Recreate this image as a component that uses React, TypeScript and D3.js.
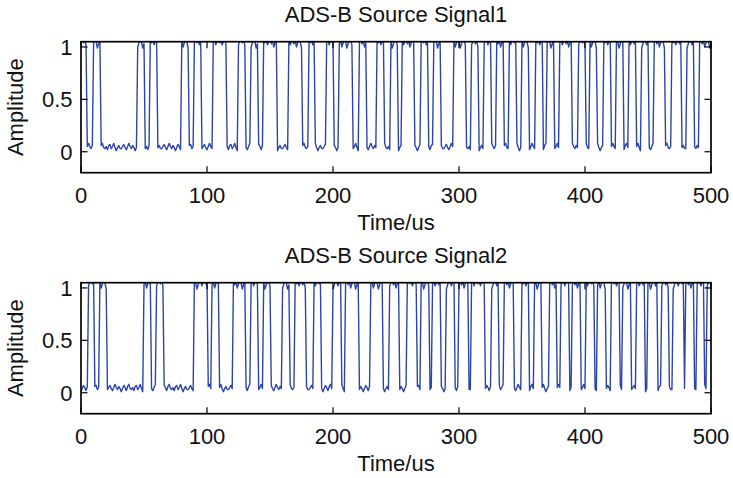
import React from "react";
import * as d3 from "d3";

// pulse intervals [start, end] in us
const pulses1: [number, number][] = [
  [0, 4.5], [10, 15], [45, 50], [55, 60], [80, 85], [90, 95], [105, 115],
  [125, 130], [135, 140], [145, 155], [165, 175], [181, 185], [195, 200],
  [205, 215], [221, 226], [235, 240], [246, 251], [255, 264], [270, 275],
  [280, 285], [296, 305], [310, 315], [320, 325], [330, 335], [340, 345],
  [350, 355], [361, 366], [370, 375], [380, 389], [395, 400], [404, 409],
  [415, 420], [425, 430], [435, 440], [445, 450], [455, 463], [469, 476],
  [481, 486], [491, 500],
];

const pulses2: [number, number][] = [
  [5.5, 10.5], [15, 20], [50, 55], [60, 65], [90, 100], [104, 109],
  [121, 130], [135, 140], [145, 150], [160, 165], [170, 178], [185, 190],
  [200, 206], [210, 220], [230, 239], [245, 252], [259, 266], [270, 276],
  [279, 285], [290, 296], [300, 307], [310, 320], [326, 331], [336, 343],
  [350, 355], [360, 365], [372, 377], [381, 387], [390, 396], [401, 407],
  [410, 416], [421, 427], [430, 436], [441, 447], [450, 457], [461, 466],
  [470, 478], [480, 486], [489, 494], [497, 500],
];

// ripple of the low and high levels, estimated from the quiet stretches
const lowNoise = [
  0.03, 0.05, 0.07, 0.04, 0.02, 0.05, 0.08, 0.05, 0.03, 0.06, 0.04, 0.01,
  0.04, 0.07, 0.05, 0.02, 0.06, 0.08, 0.04, 0.03, 0.05, 0.02, 0.06, 0.07,
  0.03, 0.05, 0.08, 0.04, 0.01, 0.04, 0.06, 0.03,
];
const highNoise = [
  1.06, 1.08, 1.04, 1.07, 1.02, 1.05, 1.09, 1.03, 1.06, 1.0, 1.04, 1.08,
  1.05, 0.99, 1.03, 1.07, 1.06, 1.02,
];

const timeTicks = [0, 100, 200, 300, 400, 500];
const ampTicks = [0, 0.5, 1];
const titles = ["ADS-B Source Signal1", "ADS-B Source Signal2"];

const W = 733;
const H = 478;
const left = 81;
const right = 711;
const panelH = 131;
const panelTops = [41.7, 282.7];
const font = "'Liberation Sans', Arial, Helvetica, sans-serif";
const fs = 22;

const x = d3.scaleLinear().domain([0, 500]).range([left, right]);

function Panel({ idx, pulses, shift }: { idx: number; pulses: [number, number][]; shift: number }) {
  const top = panelTops[idx];
  const bottom = top + panelH;
  const y = d3.scaleLinear().domain([-0.2, 1.05]).range([bottom, top]);

  const samples = d3.range(0, 501).map((t) => {
    const on = pulses.some(([s, e]) => t >= s && t <= e);
    const v = on
      ? highNoise[(t + shift) % highNoise.length]
      : lowNoise[(t + shift) % lowNoise.length];
    return [t, v] as [number, number];
  });
  const line = d3
    .line<[number, number]>()
    .x((d) => x(d[0]))
    .y((d) => y(d[1]));

  const clipId = `clip${idx}`;
  const tickLen = 6.5;

  return (
    <g>
      <defs>
        <clipPath id={clipId}>
          <rect x={left} y={top} width={right - left} height={panelH} />
        </clipPath>
      </defs>
      <path
        d={line(samples) || ""}
        fill="none"
        stroke="#2c44a8"
        strokeWidth={1.4}
        strokeLinejoin="round"
        clipPath={`url(#${clipId})`}
      />
      {timeTicks.map((t) => (
        <g key={"x" + t}>
          <line x1={x(t)} x2={x(t)} y1={bottom} y2={bottom - tickLen} stroke="#000" strokeWidth={1.2} />
          <line x1={x(t)} x2={x(t)} y1={top} y2={top + tickLen} stroke="#000" strokeWidth={1.2} />
          <text x={x(t)} y={bottom + 30} textAnchor="middle" fontSize={fs} fontFamily={font} fill="#111">
            {t}
          </text>
        </g>
      ))}
      {ampTicks.map((a) => (
        <g key={"y" + a}>
          <line x1={left} x2={left + tickLen} y1={y(a)} y2={y(a)} stroke="#000" strokeWidth={1.2} />
          <line x1={right} x2={right - tickLen} y1={y(a)} y2={y(a)} stroke="#000" strokeWidth={1.2} />
          <text x={72.5} y={y(a) + 7.9} textAnchor="end" fontSize={fs} fontFamily={font} fill="#111">
            {a}
          </text>
        </g>
      ))}
      <rect x={left} y={top} width={right - left} height={panelH} fill="none" stroke="#000" strokeWidth={1.7} />
      <text x={(left + right) / 2} y={top - 19.4} textAnchor="middle" fontSize={fs} fontFamily={font} fill="#111">
        {titles[idx]}
      </text>
      <text x={(left + right) / 2} y={bottom + 57.3} textAnchor="middle" fontSize={fs} fontFamily={font} fill="#111">
        Time/us
      </text>
      <text
        transform={`translate(23,${(top + bottom) / 2}) rotate(-90)`}
        textAnchor="middle"
        fontSize={fs}
        fontFamily={font}
        fill="#111"
      >
        Amplitude
      </text>
    </g>
  );
}

export default function App() {
  return (
    <svg
      width={W}
      height={H}
      style={{ position: "absolute", left: 0, top: 0, background: "#fff" }}
    >
      <rect width={W} height={H} fill="#fff" />
      <Panel idx={0} pulses={pulses1} shift={0} />
      <Panel idx={1} pulses={pulses2} shift={11} />
    </svg>
  );
}
